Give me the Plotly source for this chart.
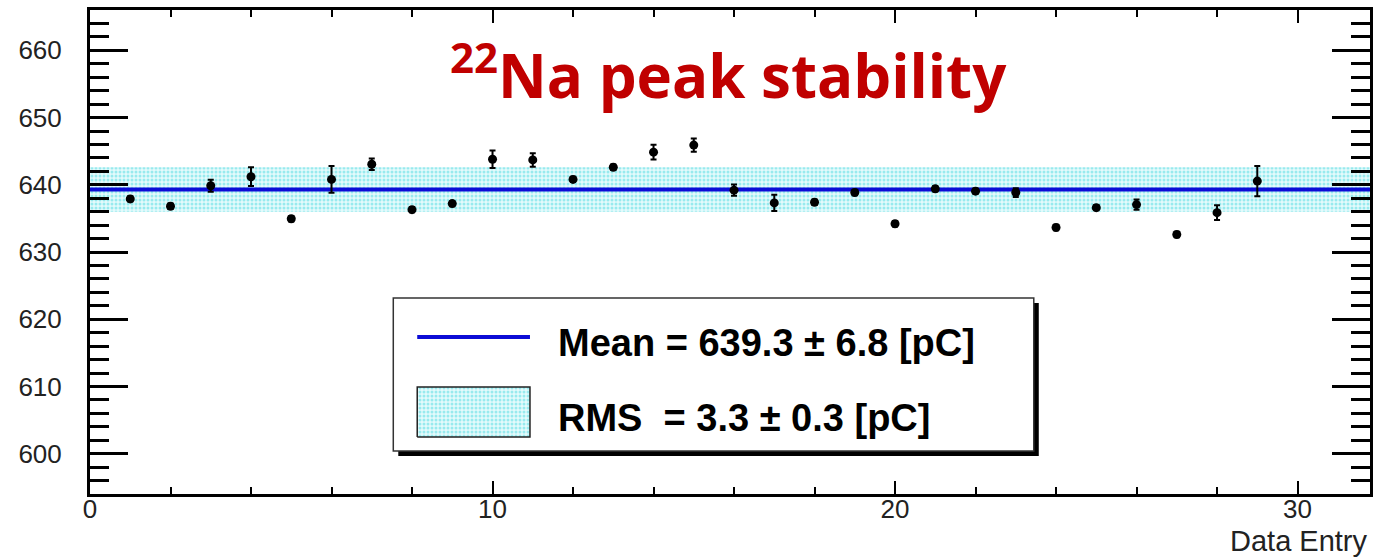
import plotly.graph_objects as go

# ---------------- data ----------------
entries = list(range(1, 30))
peak_pc = [637.9, 636.8, 639.85, 641.2, 634.95, 640.8, 643.05, 636.3, 637.2, 643.8,
           643.7, 640.8, 642.6, 644.85, 645.9, 639.2, 637.3, 637.4, 638.85, 634.2,
           639.4, 639.05, 638.85, 633.65, 636.6, 637.05, 632.6, 635.85, 640.55]
peak_err = [0.4, 0.4, 0.9, 1.4, 0.4, 2.0, 0.85, 0.4, 0.4, 1.3,
            1.0, 0.4, 0.4, 1.1, 1.0, 0.85, 1.2, 0.4, 0.4, 0.4,
            0.4, 0.4, 0.65, 0.4, 0.4, 0.75, 0.4, 1.1, 2.25]
mean_pc = 639.3
mean_err = 6.8
rms_pc = 3.3
rms_err = 0.3
x_range = [0, 31.8]
y_range = [594, 666]
x_ticks = [0, 10, 20, 30]
y_ticks = [600, 610, 620, 630, 640, 650, 660]
title_text = "<sup>22</sup>Na peak stability"
mean_label = f"Mean = {mean_pc} ± {mean_err} [pC]"
rms_label = f"RMS\u00a0 = {rms_pc} ± {rms_err} [pC]"
x_title = "Data Entry"

# ---------------- geometry helpers ----------------
W, H = 1375, 558
L, R, T, B = 90, 2, 10, 64
pw, ph = W - L - R, H - T - B


def px_x(px):
    return x_range[0] + (px - L) / pw * (x_range[1] - x_range[0])


def px_y(py):
    return y_range[1] - (py - T) / ph * (y_range[1] - y_range[0])


def pap_x(px):
    return (px - L) / pw


def pap_y(py):
    return 1 - (py - T) / ph


BLUE = "#0c0cd6"
band_pattern = dict(shape=".", fgcolor="#4cd9e2", bgcolor="#e4fafb", size=4, solidity=0.45)

fig = go.Figure()

# RMS band
lo, hi = mean_pc - rms_pc, mean_pc + rms_pc
fig.add_trace(go.Scatter(
    x=[x_range[0], x_range[1], x_range[1], x_range[0], x_range[0]],
    y=[lo, lo, hi, hi, lo], mode="lines", fill="toself",
    fillcolor="#e4fafb", fillpattern=band_pattern,
    line=dict(width=0), hoverinfo="skip", showlegend=False))

# mean line
fig.add_trace(go.Scatter(
    x=x_range, y=[mean_pc, mean_pc], mode="lines",
    line=dict(color=BLUE, width=4), showlegend=False))

# data points
fig.add_trace(go.Scatter(
    x=entries, y=peak_pc, mode="markers",
    marker=dict(color="black", size=9),
    error_y=dict(type="data", array=peak_err, color="black", thickness=2, width=3),
    showlegend=False))

# legend samples
fig.add_trace(go.Scatter(
    x=[px_x(418), px_x(531), px_x(531), px_x(418), px_x(418)],
    y=[px_y(437), px_y(437), px_y(387), px_y(387), px_y(437)],
    mode="lines", fill="toself", fillcolor="#e4fafb", fillpattern=band_pattern,
    line=dict(color="#222222", width=1.5), hoverinfo="skip", showlegend=False))
fig.add_trace(go.Scatter(
    x=[px_x(418), px_x(531)], y=[px_y(337), px_y(337)], mode="lines",
    line=dict(color=BLUE, width=4), hoverinfo="skip", showlegend=False))

shapes = [
    # shadow
    dict(type="rect", xref="paper", yref="paper", layer="below",
         x0=pap_x(399), x1=pap_x(1041), y0=pap_y(456), y1=pap_y(303),
         fillcolor="black", line=dict(width=0)),
    # box
    dict(type="rect", xref="paper", yref="paper", layer="below",
         x0=pap_x(394), x1=pap_x(1036), y0=pap_y(451), y1=pap_y(298),
         fillcolor="white", line=dict(color="#333333", width=1.5)),
]

legend_font = dict(family="Liberation Sans Narrow, Arial Narrow, Liberation Sans, Arial",
                   size=38, color="black", weight="bold")
annotations = [
    dict(text=mean_label, xref="paper", yref="paper", x=pap_x(557), y=pap_y(343),
         xanchor="left", yanchor="middle", showarrow=False, font=legend_font),
    dict(text=rms_label, xref="paper", yref="paper", x=pap_x(557), y=pap_y(418),
         xanchor="left", yanchor="middle", showarrow=False, font=legend_font),
    dict(text=title_text, xref="paper", yref="paper", x=pap_x(730), y=pap_y(72),
         xanchor="center", yanchor="middle", showarrow=False,
         font=dict(family="Open Sans, Noto Sans, sans-serif", size=60,
                   color="#c00000", weight="bold")),
    dict(text=x_title, xref="paper", yref="paper", x=1.0, y=pap_y(541),
         xanchor="right", yanchor="middle", showarrow=False,
         font=dict(family="Liberation Sans, Arial", size=29, color="#222222")),
]

axis_common = dict(showline=True, linewidth=3, linecolor="black", mirror="ticks",
                   ticks="inside", tickcolor="black", showgrid=False, zeroline=False,
                   tickfont=dict(family="Liberation Sans, Arial", size=26, color="#222222"))

fig.update_layout(
    width=W, height=H,
    margin=dict(l=L, r=R, t=T, b=B, pad=0),
    paper_bgcolor="white", plot_bgcolor="white",
    shapes=shapes, annotations=annotations,
    xaxis=dict(range=x_range, tickmode="array", tickvals=x_ticks, ticklen=13, tickwidth=2,
               ticklabelstandoff=-10,
               minor=dict(ticks="inside", ticklen=7, dtick=2, tick0=0, tickcolor="black",
                          tickwidth=2, showgrid=False),
               **axis_common),
    yaxis=dict(range=y_range, tickmode="array", tickvals=y_ticks, ticklen=38, tickwidth=2.5,
               ticklabelstandoff=20,
               minor=dict(ticks="inside", ticklen=19, dtick=2, tick0=0, tickcolor="black",
                          tickwidth=2.5, showgrid=False),
               **axis_common),
)

fig.write_html("out.html", config={"displayModeBar": False})
